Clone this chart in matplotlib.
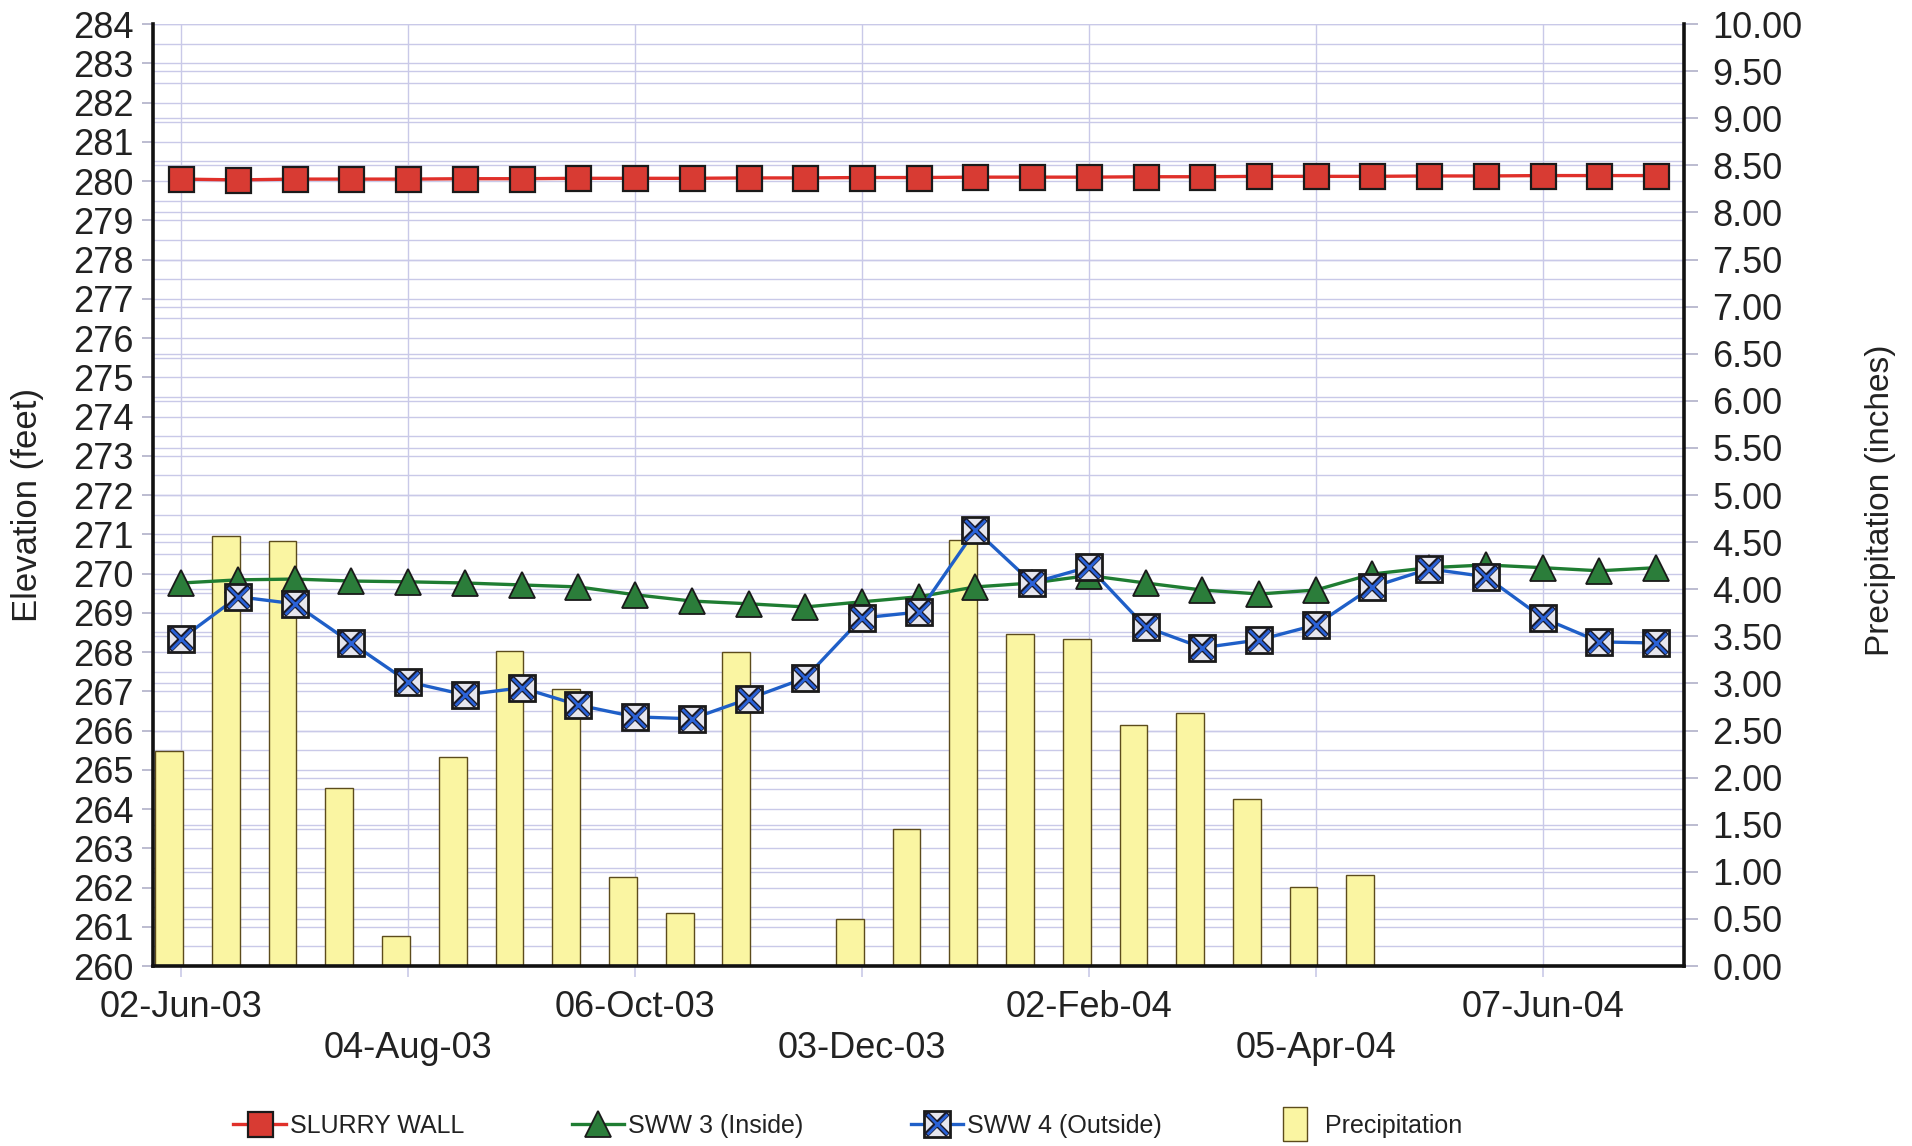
import numpy as np
import matplotlib
matplotlib.use("Agg")
import matplotlib.pyplot as plt
from matplotlib.lines import Line2D
from matplotlib.legend_handler import HandlerTuple
from matplotlib.transforms import blended_transform_factory

plt.rcParams['font.family'] = ['Liberation Sans', 'DejaVu Sans']

# ---------------- data ----------------
tick_labels = ["02-Jun-03", "04-Aug-03", "06-Oct-03", "03-Dec-03",
               "02-Feb-04", "05-Apr-04", "07-Jun-04"]
tick_every = 4  # one labelled date every 4 readings

slurry_wall = [280.05, 280.03, 280.05, 280.05, 280.05, 280.06, 280.06, 280.07, 280.07,
               280.07, 280.08, 280.08, 280.09, 280.09, 280.10, 280.10, 280.10, 280.11,
               280.11, 280.12, 280.12, 280.12, 280.13, 280.13, 280.14, 280.14, 280.14]
sww3_inside = [269.76, 269.84, 269.86, 269.81, 269.79, 269.76, 269.71, 269.66, 269.46,
               269.30, 269.23, 269.15, 269.28, 269.41, 269.66, 269.76, 269.95, 269.76,
               269.58, 269.48, 269.58, 269.99, 270.15, 270.22, 270.15, 270.07, 270.15]
sww4_outside = [268.34, 269.41, 269.23, 268.23, 267.24, 266.91, 267.09, 266.65, 266.35,
                266.30, 266.81, 267.34, 268.87, 269.02, 271.11, 269.76, 270.17, 268.64,
                268.11, 268.31, 268.69, 269.66, 270.12, 269.92, 268.87, 268.26, 268.23]
precipitation = [2.28, 4.57, 4.51, 1.89, 0.32, 2.22, 3.35, 2.94, 0.95, 0.56, 3.33, np.nan,
                 0.50, 1.46, 4.52, 3.52, 3.47, 2.56, 2.69, 1.77, 0.84, 0.97,
                 np.nan, np.nan, np.nan, np.nan, np.nan]

n = len(slurry_wall)
x = np.arange(n)

# ---------------- figure ----------------
fig = plt.figure(figsize=(19.12, 11.46), dpi=100)
ax_p = fig.add_axes([0.080, 0.157, 0.801, 0.822])   # precipitation (bottom layer)
ax_e = ax_p.twinx()                                  # elevation (top layer)

grid_c = '#c9c9e8'
text_c = '#222222'

ax_e.set_ylim(260, 284)
ax_e.set_xlim(-0.5, n - 0.5)
ax_p.set_ylim(0, 10)
ax_p.set_xlim(-0.5, n - 0.5)

# horizontal grid lines: elevation (every 0.5 ft) drawn beneath bars
tr = blended_transform_factory(ax_p.transAxes, ax_e.transData)
for v in np.arange(260.5, 284.01, 0.5):
    ax_p.plot([0, 1], [v, v], transform=tr, color=grid_c, lw=1.0, zorder=0.5)
ax_p.set_yticks(np.arange(0, 10.01, 0.5))
ax_p.yaxis.grid(True, color=grid_c, lw=1.0, zorder=0.4)
ax_p.set_xticks(x[::tick_every])
ax_p.xaxis.grid(True, color=grid_c, lw=1.0)
ax_p.set_axisbelow(True)

# bars
ax_p.bar(x - 0.46, precipitation, width=0.49, align='edge',
         color='#faf5a2', edgecolor='#5c4c1c', linewidth=1.0, zorder=2)

# right axis (precipitation)
ax_p.yaxis.tick_right()
ax_p.yaxis.set_label_position('right')
ax_p.set_yticklabels([f"{v:.2f}" for v in np.arange(0, 10.01, 0.5)])
ax_p.tick_params(axis='y', which='major', direction='out', length=10, width=1.2,
                 color='#b0b0c8', pad=10, labelsize=26, labelcolor=text_c)
ax_p.set_ylabel("Precipitation (inches)", fontsize=24, color=text_c)
ax_p.yaxis.set_label_coords(1.118, 0.495)
for s in ax_p.spines.values():
    s.set_visible(False)

# x axis ticks / labels (staggered)
labels = [lab if i % 2 == 0 else "\n" + lab for i, lab in enumerate(tick_labels)]
ax_p.set_xticklabels(labels)
ax_p.tick_params(axis='x', direction='out', length=8, width=1.2, color=grid_c,
                 pad=9.5, labelsize=26, labelcolor=text_c)

# elevation lines
ax_e.set_zorder(ax_p.get_zorder() + 1)
ax_e.patch.set_visible(False)

ax_e.plot(x, slurry_wall, color='#e0302a', lw=2.4, marker='s', ms=18,
          mfc='#d83b33', mec='#1a1a1a', mew=1.6, zorder=3)
ax_e.plot(x, sww3_inside, color='#1f7d32', lw=2.4, marker='^', ms=19,
          mfc='#2b7d3a', mec='#1a1a1a', mew=1.3, zorder=3)
ax_e.plot(x, sww4_outside, color='#1f5fc8', lw=2.4, zorder=3)
ax_e.plot(x, sww4_outside, ls='none', marker='s', ms=19, mfc='#e6e6ee',
          mec='#1a1a1a', mew=2.0, zorder=4)
ax_e.plot(x, sww4_outside, ls='none', marker='x', ms=16, mec='#1a1a2a',
          mew=4.0, zorder=5)
ax_e.plot(x, sww4_outside, ls='none', marker='x', ms=15, mec='#2a62d8',
          mew=2.0, zorder=6)

ax_e.yaxis.tick_left()
ax_e.yaxis.set_label_position('left')
ax_e.set_yticks(np.arange(260, 284.1, 1))
ax_e.set_yticklabels([str(v) for v in range(260, 285)])
ax_e.tick_params(axis='y', direction='out', length=8, width=1.2, color='#b0b0c8',
                 pad=6, labelsize=26, labelcolor=text_c)
ax_e.set_ylabel("Elevation (feet)", fontsize=25, color=text_c)
ax_e.yaxis.set_label_coords(-0.071, 0.489)
ax_e.tick_params(axis='x', which='both', bottom=False, labelbottom=False)

for side in ['left', 'right', 'bottom']:
    ax_e.spines[side].set_linewidth(2.6)
    ax_e.spines[side].set_color('#111111')
ax_e.spines['top'].set_visible(False)

# legend
h_sw = Line2D([], [], color='#e0302a', lw=2.4, marker='s', ms=18, mfc='#d83b33',
              mec='#1a1a1a', mew=1.6)
h_s3 = Line2D([], [], color='#1f7d32', lw=2.4, marker='^', ms=19, mfc='#2b7d3a',
              mec='#1a1a1a', mew=1.3)
h_s4a = Line2D([], [], color='#1f5fc8', lw=2.4, marker='s', ms=19, mfc='#e6e6ee',
               mec='#1a1a1a', mew=2.0)
h_s4b = Line2D([], [], ls='none', marker='x', ms=16, mec='#1a1a2a', mew=4.0)
h_s4c = Line2D([], [], ls='none', marker='x', ms=15, mec='#2a62d8', mew=2.0)
rect = [(-0.7, -1), (0.7, -1), (0.7, 1), (-0.7, 1), (-0.7, -1)]
h_pr = Line2D([], [], ls='none', marker=rect, ms=24, mfc='#faf5a2', mec='#5c4c1c', mew=1.0)

fig.legend([h_sw, h_s3, (h_s4a, h_s4b, h_s4c), h_pr],
           ["SLURRY WALL", "SWW 3 (Inside)", "SWW 4 (Outside)", "Precipitation"],
           handler_map={tuple: HandlerTuple(ndivide=1, pad=0)},
           loc='center', bbox_to_anchor=(0.4435, 0.0175), ncol=4, frameon=False,
           fontsize=18, handlelength=2.1, handletextpad=0.15, columnspacing=4.3,
           labelcolor=text_c)

fig.savefig("out.png", dpi=100)
